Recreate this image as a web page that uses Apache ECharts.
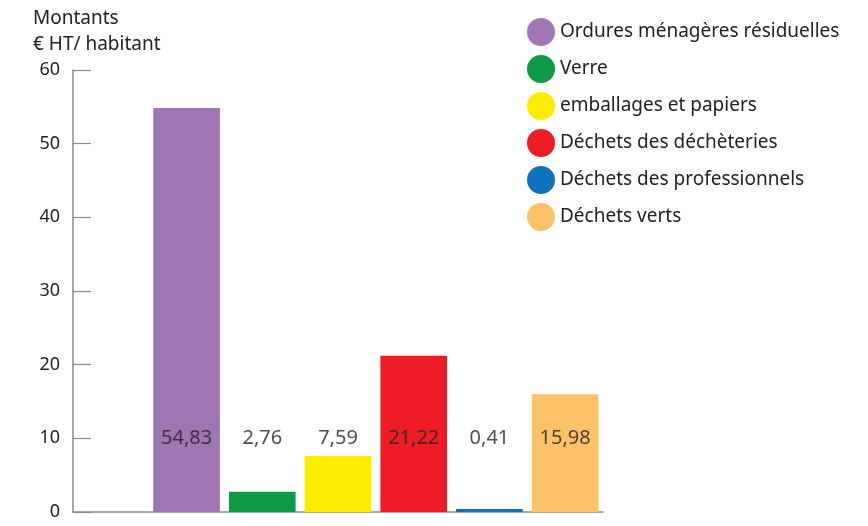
<!DOCTYPE html>
<html>
<head>
<meta charset="utf-8">
<script src="https://cdn.jsdelivr.net/npm/echarts@6/dist/echarts.min.js"></script>
<style>
  html, body { margin: 0; padding: 0; background: #fff; }
  #chart { width: 868px; height: 526px; }
</style>
</head>
<body>
<div id="chart"></div>
<script>
// first slot is empty in the original chart
let categories = ['', 'Ordures ménagères résiduelles', 'Verre', 'emballages et papiers',
  'Déchets des déchèteries', 'Déchets des professionnels', 'Déchets verts'];
let seriesNames = categories.slice(1);
let values = [54.83, 2.76, 7.59, 21.22, 0.41, 15.98];
let colors = ['#9e76b4', '#109a47', '#ffed00', '#ee1c25', '#1171bb', '#fdc167'];
let labelLevel = 10;
let yTicks = [0, 10, 20, 30, 40, 50, 60];

let font = 'Noto Sans';

let chart = echarts.init(document.getElementById('chart'), null, { renderer: 'canvas' });

let series = [];
for (let i = 0; i < seriesNames.length; i++) {
  let data = categories.map(function () { return null; });
  data[i + 1] = values[i];
  series.push({
    name: seriesNames[i],
    type: 'bar',
    stack: 'all',
    barWidth: '88%',
    itemStyle: { color: colors[i] },
    data: data
  });
}

// value labels, all printed at the same height
series.push({
  name: 'labels',
  type: 'scatter',
  symbolSize: 0,
  silent: true,
  data: values.map(function (v, i) { return [i + 1, labelLevel, v]; }),
  label: {
    show: true,
    position: 'inside',
    color: '#222',
    fontFamily: font,
    fontSize: 20,
    formatter: function (p) {
      return p.data[2].toFixed(2).replace('.', ',');
    }
  },
  z: 5
});

let option = {
  animation: false,
  grid: { left: 73, right: 265, top: 70, bottom: 14, containLabel: false },
  legend: {
    data: seriesNames.map(function (n, i) {
      return { name: n, itemStyle: { color: colors[i] } };
    }),
    orient: 'vertical',
    left: 522,
    top: 13,
    icon: 'circle',
    itemWidth: 28,
    itemHeight: 28,
    itemGap: 9,
    textStyle: { fontFamily: font, fontSize: 19, color: '#222' },
    selectedMode: false
  },
  xAxis: {
    type: 'category',
    data: categories,
    axisLine: { lineStyle: { color: '#8a8a8a', width: 1.5 } },
    axisTick: { show: false },
    axisLabel: { show: false }
  },
  yAxis: {
    type: 'value',
    min: yTicks[0],
    max: yTicks[yTicks.length - 1],
    interval: 10,
    name: 'Montants\n€ HT/ habitant',
    nameLocation: 'end',
    nameGap: 12,
    nameTextStyle: { fontFamily: font, fontSize: 19, color: '#222', align: 'left',
      padding: [0, 0, 0, -40], lineHeight: 26 },
    axisLine: { show: true, lineStyle: { color: '#8a8a8a', width: 1.5 } },
    axisTick: { show: true, inside: true, length: 18, lineStyle: { color: '#8a8a8a', width: 1.2 } },
    axisLabel: { fontFamily: font, fontSize: 18, color: '#222', margin: 13 },
    splitLine: { show: false }
  },
  series: series
};

chart.setOption(option);
</script>
</body>
</html>
